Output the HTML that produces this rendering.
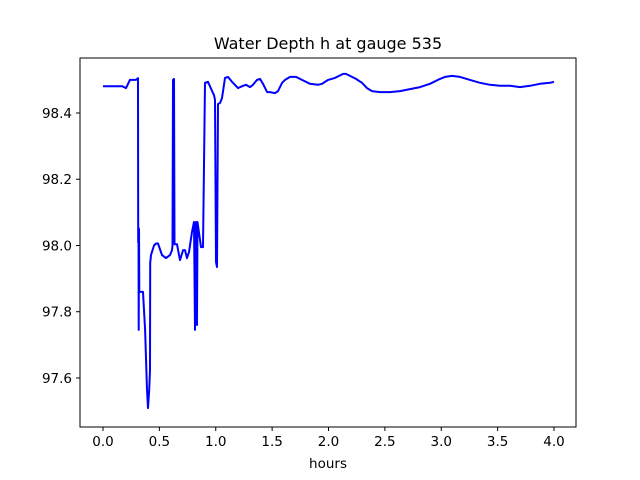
<!DOCTYPE html>
<html><head><meta charset="utf-8"><style>
body{margin:0;background:#fff}
svg{display:block;font-family:"DejaVu Sans","Liberation Sans",sans-serif}
</style></head><body>
<svg id="chart" width="640" height="480">
<rect width="640" height="480" fill="#fff"/>
<text x="328" y="49" text-anchor="middle" font-size="16">Water Depth h at gauge 535</text>
<text x="328" y="468" text-anchor="middle" font-size="13.5">hours</text>
<g id="ticks"></g>
<path id="line" fill="none" stroke="#0000ff" stroke-width="2" stroke-linejoin="round"/>
<rect x="80" y="58" width="496" height="369" fill="none" stroke="#000" stroke-width="1"/>
</svg>
<script>
const hours=[0,0.169,0.204,0.239,0.293,0.310,0.312,0.315,0.317,0.319,0.322,0.328,0.355,0.373,0.390,0.399,0.410,0.417,0.419,0.426,0.452,0.470,0.488,0.523,0.559,0.594,0.612,0.616,0.621,0.630,0.634,0.656,0.683,0.710,0.727,0.745,0.763,0.789,0.807,0.816,0.825,0.834,0.838,0.860,0.869,0.887,0.905,0.931,0.976,0.984,0.993,1.002,1.011,1.020,1.038,1.055,1.082,1.109,1.144,1.197,1.242,1.268,1.304,1.330,1.366,1.392,1.419,1.455,1.481,1.525,1.552,1.588,1.614,1.659,1.712,1.765,1.836,1.907,1.942,1.996,2.058,2.129,2.155,2.208,2.244,2.297,2.341,2.386,2.457,2.545,2.634,2.723,2.812,2.900,2.989,3.033,3.095,3.166,3.255,3.344,3.432,3.521,3.610,3.698,3.787,3.876,3.965,4.0];
const depth=[98.481,98.481,98.475,98.500,98.500,98.505,98.010,98.053,97.745,98.050,97.860,97.860,97.860,97.745,97.564,97.509,97.564,97.624,97.947,97.971,98.000,98.006,98.006,97.971,97.962,97.971,97.986,98.000,98.500,98.503,98.004,98.004,97.956,97.986,97.986,97.962,97.980,98.041,98.071,97.745,98.071,97.760,98.071,98.017,97.995,97.995,98.491,98.494,98.460,98.454,98.439,97.950,97.935,98.427,98.430,98.445,98.506,98.509,98.494,98.475,98.482,98.485,98.478,98.485,98.500,98.503,98.488,98.463,98.463,98.460,98.466,98.491,98.500,98.509,98.509,98.500,98.488,98.485,98.488,98.500,98.506,98.518,98.518,98.509,98.503,98.491,98.475,98.466,98.463,98.463,98.466,98.472,98.478,98.488,98.503,98.509,98.512,98.509,98.500,98.491,98.485,98.482,98.482,98.478,98.482,98.488,98.491,98.494];
const xTickLabels=["0.0","0.5","1.0","1.5","2.0","2.5","3.0","3.5","4.0"];
const yTickLabels=["97.6","97.8","98.0","98.2","98.4"];
const X0=80,X1=576,Y0=427,Y1=58,xmin=-0.204,xmax=4.195,ymin=97.452,ymax=98.566;
function sx(v){return X0+(v-xmin)/(xmax-xmin)*(X1-X0);}
function sy(v){return Y0-(v-ymin)/(ymax-ymin)*(Y0-Y1);}
const NS="http://www.w3.org/2000/svg";
const g=document.getElementById('ticks');
function mk(t,a){const e=document.createElementNS(NS,t);for(const k in a)e.setAttribute(k,a[k]);return e;}
xTickLabels.forEach(l=>{const x=sx(parseFloat(l));
 const t=mk('line',{x1:x,x2:x,y1:Y0,y2:Y0+4,stroke:'#000'});
 
 g.appendChild(t);
 const s=mk('text',{x:x,y:Y0+19,'text-anchor':'middle','font-size':'13.5'});s.textContent=l;
 
 g.appendChild(s);});
yTickLabels.forEach(l=>{const y=sy(parseFloat(l));
 const t=mk('line',{x1:X0-4,x2:X0,y1:y,y2:y,stroke:'#000'});
 
 g.appendChild(t);
 const s=mk('text',{x:X0-8,y:y+5,'text-anchor':'end','font-size':'13.5'});s.textContent=l;
 
 g.appendChild(s);});
document.getElementById('line').setAttribute('d',hours.map((h,i)=>(i?'L':'M')+sx(h).toFixed(1)+','+sy(depth[i]).toFixed(1)).join(''));
</script>
</body></html>
